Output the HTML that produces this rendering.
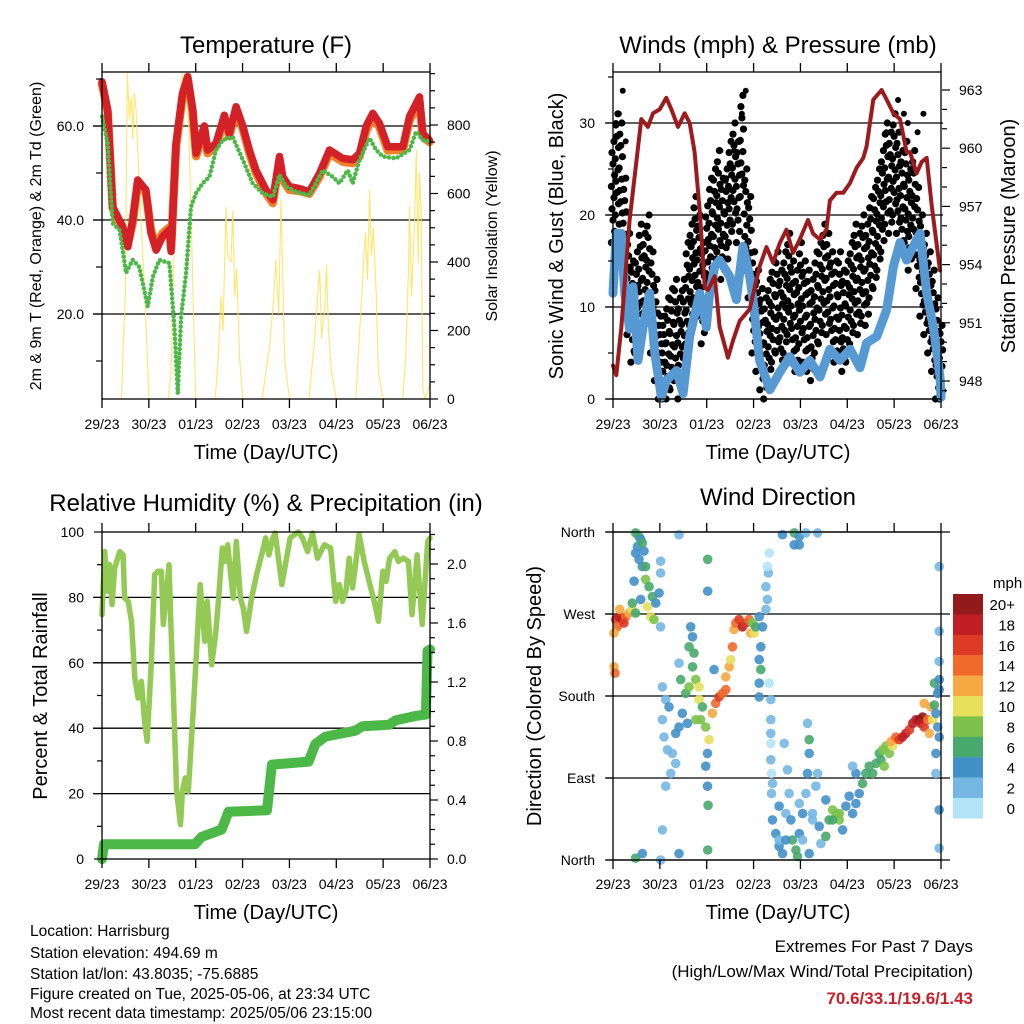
<!DOCTYPE html>
<html><head><meta charset="utf-8"><style>
html,body{margin:0;padding:0;background:#fff;}
svg{display:block;font-family:"Liberation Sans",sans-serif;}
</style></head><body>
<svg id="fig" width="1024" height="1024" viewBox="0 0 1024 1024">
<g id="layer-bg"></g>
<g id="layer-data"></g>
<g id="layer-axes"></g>
<text x="266" y="53" font-size="24" text-anchor="middle">Temperature (F)</text>
<text x="778" y="53" font-size="24" text-anchor="middle">Winds (mph) &amp; Pressure (mb)</text>
<text x="266" y="511" font-size="24" text-anchor="middle">Relative Humidity (%) &amp; Precipitation (in)</text>
<text x="778" y="505" font-size="24" text-anchor="middle">Wind Direction</text>
<text x="266" y="459" font-size="20" text-anchor="middle">Time (Day/UTC)</text>
<text x="778" y="459" font-size="20" text-anchor="middle">Time (Day/UTC)</text>
<text x="266" y="919" font-size="20" text-anchor="middle">Time (Day/UTC)</text>
<text x="778" y="919" font-size="20" text-anchor="middle">Time (Day/UTC)</text>
<text transform="translate(41,236) rotate(-90)" font-size="16" text-anchor="middle">2m &amp; 9m T (Red, Orange) &amp; 2m Td (Green)</text>
<text transform="translate(497,236) rotate(-90)" font-size="16" text-anchor="middle">Solar Insolation (Yellow)</text>
<text transform="translate(563,236) rotate(-90)" font-size="20" text-anchor="middle">Sonic Wind &amp; Gust (Blue, Black)</text>
<text transform="translate(1015,236) rotate(-90)" font-size="20" text-anchor="middle">Station Pressure (Maroon)</text>
<text transform="translate(47,696) rotate(-90)" font-size="20" text-anchor="middle">Percent &amp; Total Rainfall</text>
<text transform="translate(541,696) rotate(-90)" font-size="20" text-anchor="middle">Direction (Colored By Speed)</text>
<g font-size="15.5">
<text x="30" y="936">Location: Harrisburg</text>
<text x="30" y="958">Station elevation: 494.69 m</text>
<text x="30" y="979">Station lat/lon: 43.8035; -75.6885</text>
<text x="30" y="999">Figure created on Tue, 2025-05-06, at 23:34 UTC</text>
<text x="30" y="1018">Most recent data timestamp: 2025/05/06 23:15:00</text>
</g>
<text x="973" y="952" font-size="17" text-anchor="end">Extremes For Past 7 Days</text>
<text x="973" y="977" font-size="17" text-anchor="end">(High/Low/Max Wind/Total Precipitation)</text>
<text x="973" y="1004" font-size="17" font-weight="bold" fill="#c8202a" text-anchor="end">70.6/33.1/19.6/1.43</text>
</svg>
<script>
// ---------- data ----------
const dayLabels=["29/23","30/23","01/23","02/23","03/23","04/23","05/23","06/23"];
// temperature (hours, F)
const tempT=[0,2.9,5.5,10.6,13.2,15.7,18.3,22.5,25.1,27.7,31.1,34.5,35.4,37.9,41.3,43.9,46.5,48.2,52.4,54.1,58.4,62.7,65.2,68.7,72.1,75.5,78.9,84,87.5,90.9,92.6,96,101.1,106.2,111.4,116.5,123.3,128.4,131.9,135.3,138.7,142.1,146.4,154.1,157.5,162.6,164.3,167.7];
const tempV=[69.4,63.4,42.8,38.6,34.3,40,48.5,46.4,37.2,33.6,36.5,37.9,33.3,56.3,67,70.5,63.4,54.2,60,54.9,56.3,62.3,58.4,64.1,60,54.9,50.6,46.4,44.3,53.5,49.2,47.1,46.7,46,49.9,54.9,53.1,52.8,54.2,60,62.7,60.6,55.6,55.6,62,66.2,58.4,57];
const temp9V=[69,63,42.5,38,34.8,39.5,47.8,45.8,37.8,34.5,37.2,38.4,34,55.5,66.5,70,62.8,53.6,59.4,54.2,55.7,61.6,57.8,63.4,59.4,54.2,50,45.7,43.6,52.6,48.5,46.4,46.2,45.6,49.2,54.2,52.4,52.1,53.5,59,61.8,59.8,54.8,55,61.2,65,57.8,56.6];
const dewT=[0,2.9,5.5,8.9,10.6,12.3,15.7,19.1,23.4,26,29.4,34.5,37.1,38.8,40.5,43.1,45.6,48.2,51.6,55,58.4,61.8,66.9,72.1,77.2,82.3,87.5,90.9,94.3,99.4,106.2,113.1,118.2,121.6,125.9,128.4,131.9,137,140.4,143.8,150.6,157.5,160.9,164.3,167.7];
const dewV=[62,56.3,39.3,37.9,33.6,28.7,31.5,30,21.6,27.9,31.5,30.8,17.3,3.1,19.4,28.7,42.8,45.7,47.8,49.2,54.9,57,57.7,52.8,47.8,45.7,44.9,49.6,47.1,46,45.3,50.6,49.2,47.8,50.6,47.8,52.8,57.4,54.9,53.5,53.1,54.9,58.8,57,56.7];
// solar insolation (hours, W/m2)
const solarT=[0,10,11,12,12.5,13,14,15,15.7,16.5,17.4,18.5,20,22,24,34,35.4,37,38.5,40,41.3,42.5,43.5,44.5,46,48,58,59.5,61,62,63.5,64.5,66,67,68,69,70.5,72,82,84,86,88,89,90.5,91.7,92.5,93.5,96,106,107.5,109,110.5,111.5,112.5,114,115,116,117.5,120,130,131.5,133,134,135,136,137,138,139,140.5,141.5,144,154,155.5,157,157.5,158.5,160,161,162,162.6,163.5,164.3,165.5,167.7];
const solarV=[0,0,180,300,700,950,820,880,760,893,850,700,520,300,0,0,80,450,700,900,950,840,900,780,450,0,0,120,300,200,561,420,400,550,300,380,120,0,0,80,160,300,406,250,581,380,120,0,0,90,180,300,377,180,260,391,200,80,0,0,150,300,400,484,350,610,420,500,300,80,0,0,120,380,561,300,500,727,400,660,550,30,0,40];
// winds (hours, mph)
const windT=[0,1.7,4.3,6,8.5,10.3,12.8,15.4,18.8,21.4,24.8,27.3,32.5,35.9,39.3,44.4,47.8,49.5,52.1,54.6,59.8,63.2,66.6,70,71.7,75.1,80.3,85.4,90.5,95.7,100.8,106,111.1,116.2,121.4,126.5,129.9,135.1,140.2,143.6,147,150.4,153.8,157.3,160.7,164.1,167.5,168];
const windV=[11.5,18,18,11.5,7.6,12.2,4.2,7.8,11.5,5,0.2,2,3.1,0.6,6.8,11.5,7.8,11.5,14.4,15.1,13.3,10.8,16.6,13.3,10.8,4.2,1,2.9,4.6,2.9,4.2,2.4,5.4,4.2,5.4,3.4,6.1,6.8,9.7,14.4,17,15.1,16.6,18,11.5,7.8,2.4,0.2];
const gustHi=[28,31,30,24,18,15,16,19,18,20,16,13,9,9,11,12,13,11,13,17,19,22,20,17,21,24,25,27,24,25,28,30,28,33,25,22,16,14,12,11,13,15,16,14,16,18,15,14,17,15,14,13,16,17,19,18,16,15,16,14,15,17,19,18,20,19,22,23,25,27,30,29,31,29,27,28,25,27,23,20,18,16,14,11,8];
const gustLo=[17,20,19,13,7,4,5,8,7,9,5,2,0,0,0,1,2,0,2,6,8,11,9,6,10,13,14,16,13,14,17,19,17,22,14,11,5,3,1,0,2,4,5,3,5,7,4,3,6,4,3,2,5,6,8,7,5,4,5,3,4,6,8,7,9,8,11,12,14,16,19,18,20,18,16,17,14,16,12,9,7,5,3,0,0];
const gustPeakT=[1.5,3,5,6.5,64,66,68,62,58,140,146,149,151,156,159,55,26];
const gustPeakV=[30,31,33.5,28,28,31,33.5,27,24,29,32.5,31,30,29,31,27,7];
// pressure (hours, mb)
const presT=[0,1.7,4.3,8.5,14.5,17.9,20.5,23.9,27.3,29.9,33.3,36.7,39.3,41.8,44.4,47,48.7,52.1,54.6,58.9,61.5,64.9,70,75.1,78.6,82,85.4,88.8,92.2,95.7,99.9,102.5,105.9,109.3,111.1,114.5,117.9,121.4,124.8,128.2,129.9,133.3,137.6,140.2,143.6,147,150.4,152.1,155.5,158.1,160.7,163.3,167.5];
const presV=[948.8,948.3,950.8,956.3,961.5,961.1,961.8,962,962.6,962,961.1,961.8,961.3,959.8,956.8,952.8,952.7,953.4,950.8,949.2,950.1,951.1,951.7,953.9,954.9,954.1,955.1,955.8,954.6,955.3,956.3,955.6,955.3,955.8,957.3,957.7,957.7,958.2,959,959.5,960.1,962.5,963,962.5,961.8,961.5,959.8,959.8,958.7,959.3,959.5,957,953.7];
// relative humidity (hours, %)
const rhT=[0,1.4,2.7,3.9,5.1,6.5,9.1,10.8,11.6,13.4,15.1,16.8,18.5,20.2,21.8,23.1,25.2,27,28.7,30.4,31.4,33.1,34.3,35.3,36.5,38.2,40.2,41.2,42.6,44.2,46.8,50.3,52.6,53.9,56.2,58.2,59.9,61.6,63,64.4,65.4,67.2,68.8,70.9,72.3,74,76.6,79.2,80.9,82.6,83.8,85.5,87.5,88.7,92.1,96.4,100.5,102.7,105.3,107.8,110.4,113.9,117.1,119.7,121.5,123.2,124.9,126.6,128.3,129.9,131.7,134.3,136.8,139.4,141.6,143.8,145.5,147.3,150,151.8,154.4,157,158.8,161.4,164,166.8,168];
const rhV=[74.7,94,81.9,90,77.8,89,94,93,79.8,78.8,72.7,55.4,49.2,54.3,42.1,36,59.4,87,88,88,71.7,81.9,90,71.7,51.3,20.7,10.5,20.7,24.8,20.7,46.2,83.9,66.6,78.8,59.4,68.6,80.8,95.1,91,96.1,90,79.8,97.1,79.8,76.8,69.6,79.8,87,91,95.1,98.2,93,98.2,99.7,83.9,98.2,100,98.2,94,99.7,92,96.1,95.1,78.8,83.9,78.8,81.9,92,82.9,90,99.2,91,84.9,78.8,72.7,88,84.9,92,94,91,92,91,74.7,93,71.7,97.1,98.2];
// precipitation (hours, in)
const prT=[0,1,47.6,51,61.3,64.8,84.5,87,105.8,109.3,114.4,129.8,133.3,147,150.4,160.7,165.9,166.7,168];
const prV=[0,0.1,0.1,0.15,0.2,0.32,0.33,0.64,0.66,0.78,0.83,0.87,0.9,0.91,0.94,0.97,0.98,1.41,1.42];
// wind direction (hours, degrees, mph)
const dirT=[1.4,3.1,4.8,6.5,8.2,9.9,2.2,0.5,0.5,1,3.4,5.6,
11.6,13.3,14.2,12.5,11.6,13.3,15,10.8,16.7,18.5,20.2,17.6,19.3,21,21.9,23.6,24.4,24.4,16.7,14.2,11.6,9.9,15.9,15,
25.3,27,28.7,25.3,26.1,27.9,30.4,32.1,33.8,35.5,37.3,39,40.7,42.4,44.1,44.9,45.8,47.5,49.2,48.4,47.5,48.4,48.7,40.7,41.5,39.8,33.8,51.8,27,25.3,39,34.7,32.1,29.6,38.1,42.4,44.1,
50.9,52.6,54.3,56.1,57.8,57.8,59.5,60.3,61.2,62,62.9,64.6,66.3,68,69.7,70.6,72.3,71.4,73.1,
74.9,76.6,75.7,74.9,75.7,74.9,74.9,78.3,79.1,78.3,79.6,79.1,80,80,80.8,80.8,80.8,80.8,80.8,81.7,81.2,81.2,
86.8,92.8,95.4,92.8,95.4,98.8,104.8,33.8,33.8,24.4,11.6,15,48.5,24.4,48.5,48.5,167.1,167.1,167.1,167.1,167.1,
81.7,83.4,85.1,86.8,85.1,88.5,90.2,91.1,91.9,93.7,94.5,95.4,97.1,98.8,99.6,100.5,100.5,99.6,102.2,103.9,104.8,105.6,106.5,109,110.7,112.5,114.2,115.9,117.6,119.3,121,122.7,124.4,126.1,127.8,124.4,122.7,102.2,95.4,89.4,87.7,85.1,88.5,97.1,100.5,112.5,109,115.9,
129.5,131.2,133,134.7,136.4,138.1,139.8,137.2,138.9,141.5,143.2,144.1,142.4,144.9,146.6,148.3,150,151.8,153.5,155.2,156.9,158.6,157.7,159.4,161.2,162,163.7,162.9,159.4,164.6,165.4,166.3,167.1,165.4,165.4,164.6,167.1,166.3,167.1];
const dirDeg=[264,267,264,267,271,275,256,249,212,205,275,260,
359,355,352,344,337,330,322,306,308,300,289,278,267,264,282,293,315,256,322,286,271,282,339,348,
190,176,168,154,135,121,117,139,146,161,183,190,212,198,176,154,168,146,132,117,103,81,60,245,227,256,216,209,81,33,234,198,106,95,150,154,190,
161,172,179,183,187,201,212,220,234,253,260,264,256,260,264,249,249,260,256,
267,256,234,220,209,194,179,275,286,300,315,322,337,194,176,154,139,128,110,84,73,95,
357,359,355,346,346,359,359,357,7,0,2,7,11,328,295,330,322,251,218,55,13,
44,29,15,7,59,51,73,44,22,11,4,29,51,73,95,117,132,150,51,81,95,37,18,66,44,55,51,44,33,59,70,51,62,73,84,95,103,44,62,99,128,22,22,22,7,44,26,51,
95,103,95,106,117,121,125,110,103,117,125,132,130,135,132,135,139,143,150,154,154,157,150,146,154,139,154,168,172,170,161,146,135,117,95,194,198,183,187];
const dirSpd=[16,18,18,14,12,10,14,12,12,14,12,16,
6,6,4,4,4,4,4,4,8,6,6,10,10,8,4,4,2,2,6,4,6,6,4,6,
2,2,4,2,2,2,2,4,4,4,6,8,6,8,10,8,6,8,10,4,4,4,6,4,6,4,2,4,2,2,6,6,2,2,4,8,10,
12,14,16,14,14,12,12,10,14,12,14,16,18,16,14,12,10,8,6,
4,4,4,4,6,4,4,2,2,2,2,0,0,0,2,2,2,0,2,2,2,0,
4,6,4,4,4,2,2,2,4,2,6,4,6,2,4,6,2,2,2,4,2,
4,4,4,4,4,2,2,4,6,6,6,4,4,2,4,4,6,2,2,2,2,4,2,4,6,8,8,8,4,4,4,4,4,4,6,4,2,2,2,2,2,2,4,2,4,6,6,8,
6,6,6,6,6,8,8,6,8,8,10,12,12,14,16,18,18,16,18,18,20,20,18,16,14,12,10,12,12,6,4,4,4,4,2,6,4,4,4];
const cbLabels=["20+","18","16","14","12","10","8","6","4","2","0"];
const cbColors=["#931a1c","#be1e24","#de3a26","#f06a2b","#f6a843","#e6e05a","#7cc24a","#49a86b","#4390c8","#74b7e2","#b3e3f7"];

// ---------- helpers ----------
const NS="http://www.w3.org/2000/svg";
const bg=document.getElementById('layer-bg'),dl=document.getElementById('layer-data'),ax=document.getElementById('layer-axes');
function mk(parent,tag,attrs,name,inter){
  const el=document.createElementNS(NS,tag);
  for(const k in attrs) el.setAttribute(k,attrs[k]);
  
  
  parent.appendChild(el);return el;
}
function line(p,x1,y1,x2,y2,name,w,c){return mk(p,'line',{x1:x1,y1:y1,x2:x2,y2:y2,stroke:c||'#000','stroke-width':w||1},name,false);}
function txt(p,x,y,s,anchor,name,size){const t=mk(p,'text',{x:x,y:y,'font-size':size||14,'text-anchor':anchor},name,false);t.textContent=s;return t;}
function poly(p,xs,ys,fx,fy,attrs,name){
  const pts=xs.map((t,i)=>fx(t).toFixed(1)+','+fy(ys[i]).toFixed(1)).join(' ');
  const a=Object.assign({points:pts,fill:'none','stroke-linejoin':'round','stroke-linecap':'round'},attrs);
  return mk(p,'polyline',a,name,false);
}
function spdColor(s){let i=Math.min(10,Math.floor(s/2));return cbColors[10-i];}

function xAxis(X0){return t=>X0+t/168*328;}
function frame(name,X0,Y0,Y1,bottomLabelsY){
  mk(ax,'rect',{x:X0,y:Y0,width:328,height:Y1-Y0,fill:'none',stroke:'#000','stroke-width':1.3},name+'-frame',false);
  const fx=xAxis(X0);
  for(let d=0;d<8;d++){
    const x=fx(d*24);
    line(ax,x,Y0-9,x,Y0,name+'-top-tick',1.3);
    line(ax,x,Y1,x,Y1+9,name+'-bottom-tick',1.3);
    txt(ax,x,bottomLabelsY,dayLabels[d],'middle',name+'-x-tick-label',14);
  }
  return fx;
}
function yTicks(name,side,X,vals,fy,labels,len,withLabels,gridFrom,gridTo){
  vals.forEach((v,i)=>{
    const y=fy(v);
    if(side==='left') line(ax,X-len,y,X,y,name+'-tick',1.2); else line(ax,X,y,X+len,y,name+'-tick',1.2);
    if(withLabels&&labels){
      if(side==='left') txt(ax,X-18,y+5,labels[i],'end',name+'-label',14);
      else txt(ax,X+17,y+5,labels[i],'start',name+'-label',14);
    }
    if(gridFrom!==undefined) line(bg,gridFrom,y,gridTo,y,name+'-gridline',1.3);
  });
}

// ---------- Panel 1: Temperature ----------
(function(){
  const fx=frame('temp',102,72,399,429);
  const fT=v=>408-v*4.7, fS=v=>399-v*0.3425;
  yTicks('temp-y','left',102,[20,40,60],fT,["20.0","40.0","60.0"],9,true,93,430);
  yTicks('temp-y-minor','left',102,[10,30,50,70],fT,null,6,false);
  yTicks('solar-y','right',430,[0,200,400,600,800],fS,["0","200","400","600","800"],8,true);
  yTicks('solar-y-minor','right',430,[50,100,150,250,300,350,450,500,550,650,700,750,850,900,950],fS,null,5,false);
  const g=mk(dl,'g',{'clip-path':'url(#clip1)'},'temperature-series',false);
  poly(g,solarT,solarV,fx,fS,{stroke:'#fde35a','stroke-width':1.1,opacity:0.9},'solar-insolation-line');
  poly(g,tempT,temp9V,fx,fT,{stroke:'#f47f2a','stroke-width':8.5},'temp-9m-line');
  poly(g,tempT,tempV,fx,fT,{stroke:'#d42027','stroke-width':7.5},'temp-2m-line');
  poly(g,dewT,dewV,fx,fT,{stroke:'#4cb848','stroke-width':4.5,'stroke-dasharray':'0 4.5'},'dewpoint-line');
})();

// ---------- Panel 2: Winds & pressure ----------
(function(){
  const fx=frame('wind',613,72,399,429);
  const fW=v=>399-v*9.2, fP=v=>381-(v-948)*19.4;
  yTicks('wind-y','left',613,[0,10,20,30],fW,["0","10","20","30"],8,true,606,943);
  yTicks('wind-y-minor','left',613,[5,15,25,35],fW,null,5,false);
  yTicks('pres-y','right',942,[948,951,954,957,960,963],fP,["948","951","954","957","960","963"],8,true);
  yTicks('pres-y-minor','right',942,[947.5,949,950,952,953,955,956,958,959,961,962],fP,null,5,false);
  const g=mk(dl,'g',{},'wind-series',false);
  gustHi.forEach((h,i)=>{
    const lo=gustLo[i];
    for(let k=0;k<=9;k++){
      const v=lo+(h-lo)*k/9;
      const dx=[-1.6,1.6,0,-1,1][k%5];
      mk(g,'circle',{cx:(fx(i*2)+dx).toFixed(1),cy:fW(v).toFixed(1),r:3.6,fill:'#000'},'gust-point',false);
    }
  });
  gustPeakT.forEach((t,i)=>{mk(g,'circle',{cx:fx(t),cy:fW(gustPeakV[i]),r:3,fill:'#000'},'gust-peak-point',false);});
  poly(g,windT,windV,fx,fW,{stroke:'#5799d3','stroke-width':9},'sonic-wind-line');
  poly(g,presT,presV,fx,fP,{stroke:'#9b1b1e','stroke-width':4},'pressure-line');
})();

// ---------- Panel 3: RH & precip ----------
(function(){
  const fx=frame('rh',102,532,859,889);
  const fR=v=>859-v*3.27, fPr=v=>859-v*147.5;
  yTicks('rh-y','left',102,[0,20,40,60,80,100],fR,["0","20","40","60","80","100"],8,true);
  yTicks('rh-grid','left',102,[20,40,60,80],fR,null,0,false,93,430);
  yTicks('rh-y-minor','left',102,[10,30,50,70,90],fR,null,5,false);
  yTicks('precip-y','right',430,[0,0.4,0.8,1.2,1.6,2.0],fPr,["0.0","0.4","0.8","1.2","1.6","2.0"],8,true);
  yTicks('precip-y-minor','right',430,[0.1,0.2,0.3,0.5,0.6,0.7,0.9,1.0,1.1,1.3,1.4,1.5,1.7,1.8,1.9,2.1,2.2],fPr,null,5,false);
  const g=mk(dl,'g',{},'humidity-series',false);
  poly(g,rhT,rhV,fx,fR,{stroke:'#93c954','stroke-width':5.5},'relative-humidity-line');
  poly(g,prT,prV,fx,fPr,{stroke:'#4cb848','stroke-width':10},'precipitation-line');
})();

// ---------- Panel 4: wind direction ----------
(function(){
  const fx=frame('dir',613,532,860,889);
  const fD=v=>860-v*(328/360);
  yTicks('dir-y','left',613,[0,90,180,270,360],fD,["North","East","South","West","North"],8,true,606,950);
  const g=mk(dl,'g',{},'wind-direction-points',false);
  dirT.forEach((t,i)=>{
    mk(g,'circle',{cx:fx(t).toFixed(1),cy:fD(dirDeg[i]).toFixed(1),r:4.8,fill:spdColor(dirSpd[i]),opacity:0.9},'direction-point',false);
  });
  txt(ax,993,588,'mph','start','colorbar-title',15);
  cbColors.forEach((c,i)=>{
    mk(ax,'rect',{x:953,y:594+i*20.4,width:30,height:20.6,fill:c},'colorbar-box',false);
    txt(ax,1015,594+i*20.4+16,cbLabels[i],'end','colorbar-label',15);
  });
})();
const defs=mk(document.getElementById('fig'),'defs',{},'clip-defs',false);
const cp=mk(defs,'clipPath',{id:'clip1'},'temperature-clip',false);
mk(cp,'rect',{x:96,y:72,width:340,height:332},'temperature-clip-rect',false);
</script>
</body></html>
